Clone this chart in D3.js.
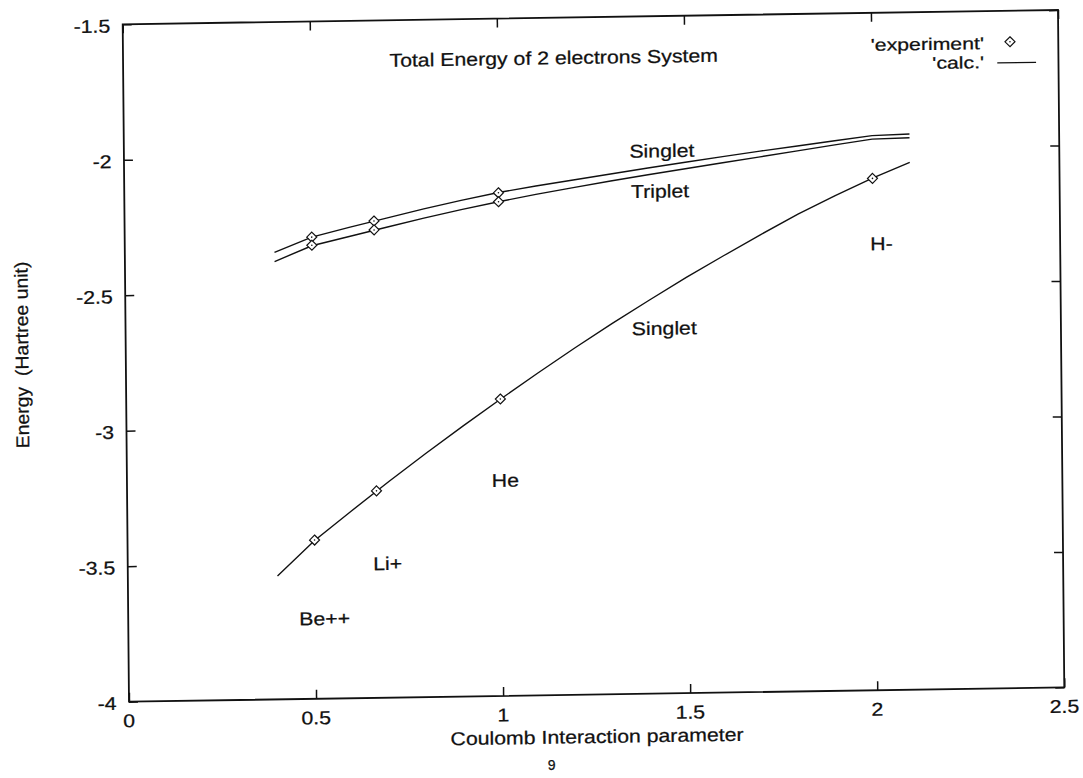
<!DOCTYPE html>
<html>
<head>
<meta charset="utf-8">
<script src="https://cdn.jsdelivr.net/npm/d3@7"></script>
<style>
  html, body { margin: 0; padding: 0; background: #fff; }
  svg { display: block; }
  text { font-family: "Liberation Sans", Arial, Helvetica, sans-serif; fill: #111; stroke: #111; stroke-width: 0.25px; }
</style>
</head>
<body>
<svg id="chart" width="1083" height="778"></svg>
<script>
// ---- data ----
const xTicks = [0, 0.5, 1, 1.5, 2, 2.5];
const yTicks = [-1.5, -2, -2.5, -3, -3.5, -4];

// measured energies (scaled), x = Coulomb interaction parameter
const expGroundX = [0.5, 0.6667, 1.0, 2.0];
const expGroundY = [-3.414, -3.236, -2.904, -2.111];
const expSingletX = [0.5, 0.6667, 1.0];
const expSingletY = [-2.296, -2.240, -2.143];
const expTripletX = [0.5, 0.6667, 1.0];
const expTripletY = [-2.326, -2.273, -2.176];

// calculated curves
const calcX = [0.4, 0.5, 0.6, 0.7, 0.8, 0.9, 1.0, 1.1, 1.2, 1.3, 1.4, 1.5, 1.6, 1.7, 1.8, 1.9, 2.0, 2.1];
const calcGround = [-3.545, -3.416, -3.308, -3.202, -3.100, -3.001, -2.905, -2.811, -2.720, -2.632,
                    -2.548, -2.466, -2.388, -2.312, -2.239, -2.172, -2.110, -2.054];
const calcSinglet = [-2.350, -2.296, -2.262, -2.230, -2.198, -2.169, -2.142, -2.120, -2.100, -2.080,
                     -2.060, -2.041, -2.022, -2.004, -1.987, -1.970, -1.953, -1.949];
const calcTriplet = [-2.384, -2.328, -2.296, -2.264, -2.232, -2.203, -2.176, -2.151, -2.128, -2.106,
                     -2.085, -2.065, -2.045, -2.025, -2.005, -1.985, -1.966, -1.963];

// text annotations placed in data coordinates
const labelText = ["Total Energy of 2 electrons System", "Singlet", "Triplet", "H-", "Singlet", "He", "Li+", "Be++"];
const labelX = [0.712, 1.351, 1.354, 1.9925, 1.353, 0.975, 0.656, 0.457];
const labelY = [-1.672, -2.021, -2.170, -2.376, -2.676, -3.228, -3.529, -3.728];

const legendNames = ["'experiment'", "'calc.'"];

// ---- layout ----
const W = 935.4, H = 677.4;
const FS = 18.5, SX = 1.15;
const LEG_FS = 17, LEG_SX = 1.25;

const svg = d3.select("#chart");
svg.append("rect").attr("width", 1083).attr("height", 778).attr("fill", "#fff");

// plot frame is slightly tilted on the page
const g = svg.append("g")
  .attr("transform", "matrix(0.99988,-0.01529,0.0093,0.99996,122.7,24.3)");

const x = d3.scaleLinear().domain([0, 2.5]).range([0, W]);
const y = d3.scaleLinear().domain([-1.5, -4]).range([0, H]);

function addText(parent, px, py, str, anchor, sx, fs) {
  return parent.append("text")
    .attr("transform", `translate(${px},${py}) scale(${sx === undefined ? SX : sx},1)`)
    .attr("text-anchor", anchor || "start")
    .attr("font-size", fs || FS)
    .text(str);
}

// axes with inward ticks on all four sides
const tickLen = 9;
const axB = d3.axisBottom(x).tickValues(xTicks).tickSize(-tickLen).tickFormat("");
const axT = d3.axisTop(x).tickValues(xTicks).tickSize(-tickLen).tickFormat("");
const axL = d3.axisLeft(y).tickValues(yTicks).tickSize(-tickLen).tickFormat("");
const axR = d3.axisRight(y).tickValues(yTicks).tickSize(-tickLen).tickFormat("");
[[axB, `translate(0,${H})`], [axT, "translate(0,0)"], [axL, "translate(0,0)"], [axR, `translate(${W},0)`]]
  .forEach(([ax, tr]) => {
    const a = g.append("g").attr("transform", tr).call(ax);
    a.select(".domain").remove();
    a.selectAll("line").attr("stroke", "#111").attr("stroke-width", 1.5);
  });

g.append("rect").attr("x", 0).attr("y", 0).attr("width", W).attr("height", H)
  .attr("fill", "none").attr("stroke", "#111").attr("stroke-width", 1.8);

// tick labels
xTicks.forEach(v => addText(g, x(v), H + 25.5, String(v), "middle"));
yTicks.forEach(v => addText(g, -12.5, y(v) + 8, String(v), "end"));

// axis titles
addText(g, x(1.25), H + 48.5, "Coulomb Interaction parameter", "middle");
g.append("text")
  .attr("transform", `translate(-97.5,${H / 2 - 9.6}) rotate(-90) scale(1.05,1)`)
  .attr("text-anchor", "middle")
  .attr("font-size", FS)
  .attr("xml:space", "preserve")
  .text("Energy  (Hartree unit)");

// calculated curves
const line = d3.line().x(d => x(d[0])).y(d => y(d[1]));
[calcGround, calcSinglet, calcTriplet].forEach(ys => {
  g.append("path")
    .datum(calcX.map((v, i) => [v, ys[i]]))
    .attr("d", line)
    .attr("fill", "none")
    .attr("stroke", "#111")
    .attr("stroke-width", 1.4);
});

// diamond markers for measured values
const DS = 5;
function diamond(parent, cx, cy) {
  parent.append("path")
    .attr("d", `M${cx},${cy - DS}L${cx + DS},${cy}L${cx},${cy + DS}L${cx - DS},${cy}Z`)
    .attr("fill", "#fff").attr("stroke", "#111").attr("stroke-width", 1.2);
  parent.append("circle").attr("cx", cx).attr("cy", cy).attr("r", 0.8).attr("fill", "#111");
}
[[expGroundX, expGroundY], [expSingletX, expSingletY], [expTripletX, expTripletY]]
  .forEach(([xs, ys]) => xs.forEach((v, i) => diamond(g, x(v), y(ys[i]))));

// annotations
labelText.forEach((t, i) => addText(g, x(labelX[i]), y(labelY[i]), t, "start"));

// legend
const legRight = W - 74.4;
addText(g, legRight, 38, legendNames[0], "end", LEG_SX, LEG_FS);
addText(g, legRight, 57, legendNames[1], "end", LEG_SX, LEG_FS);
diamond(g, W - 48.3, 31);
g.append("line").attr("x1", W - 61.2).attr("x2", W - 22.4).attr("y1", 52).attr("y2", 52)
  .attr("stroke", "#111").attr("stroke-width", 1.3);

// page number
svg.append("text").attr("x", 551.7).attr("y", 769.5).attr("text-anchor", "middle")
  .attr("font-family", "DejaVu Sans Mono, monospace").attr("font-size", 14)
  .attr("stroke-width", 0).attr("fill", "#333").text("9");
</script>
</body>
</html>
